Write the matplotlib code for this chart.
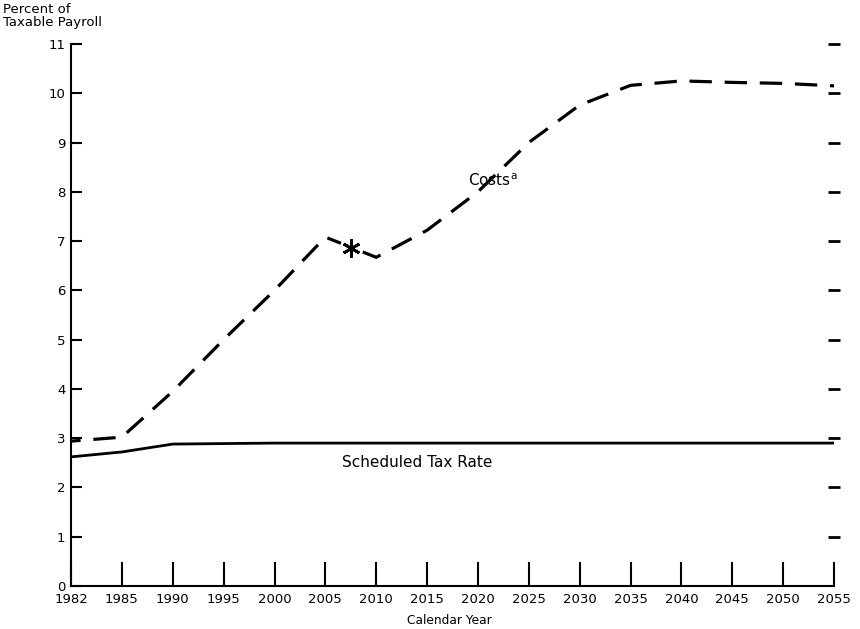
#!/usr/bin/env python3

# +
# import(s)
# -
import numpy as np
import matplotlib as mpl
mpl.use('Agg')
import matplotlib.pyplot as plt


# +
# data
# -
TICK_YEARS = [1982, 1985, 1990, 1995, 2000, 2005, 2010, 2015, 2020, 2025,
              2030, 2035, 2040, 2045, 2050, 2055]
TICK_LABELS = ['1982', '1985', '1990', '1995', '2000', '2005', '2010', '2015', '2020', '2025',
               '2030', '2035', '2040', '2045', '2050', '2055']

COST_YEARS = [1982, 1985, 1990, 1995, 2000, 2005, 2010, 2015, 2020, 2025,
              2030, 2035, 2040, 2045, 2050, 2055]
COST_VALUES = [2.94, 3.02, 3.95, 5.0, 6.0, 7.08, 6.67, 7.22, 8.0, 9.0,
               9.76, 10.16, 10.25, 10.22, 10.2, 10.15]

TAX_YEARS = [1982, 1985, 1990, 2000, 2010, 2020, 2030, 2040, 2050, 2055]
TAX_VALUES = [2.62, 2.72, 2.88, 2.9, 2.9, 2.9, 2.9, 2.9, 2.9, 2.9]

STAR_YEAR = 2007.5
STAR_VALUE = 6.86

Y_TICKS = list(range(0, 12))
RIGHT_TICKS = list(range(1, 12))

FONT = ['DejaVu Sans']


# the ticks are evenly spaced even though 1982-1985 is only 3 years
def year_to_pos(_years):
    return np.interp(_years, TICK_YEARS, np.arange(len(TICK_YEARS)))


# +
# plot
# -
fig = plt.figure(figsize=(8.6, 6.29), dpi=100)
ax = fig.add_axes([0.0826, 0.0684, 0.8872, 0.8617])

ax.plot(year_to_pos(COST_YEARS), COST_VALUES, color='black', lw=2.3,
        linestyle=(4.0, (7.0, 4.0)), solid_capstyle='butt', dash_capstyle='butt', zorder=2)
ax.plot(year_to_pos(TAX_YEARS), TAX_VALUES, color='black', lw=2.0, zorder=2)
# white patch so the dashed line breaks around the asterisk
ax.plot([year_to_pos(STAR_YEAR)], [STAR_VALUE], marker='o', ms=17, mew=0,
        color='white', linestyle='none', zorder=3)
ax.plot([year_to_pos(STAR_YEAR)], [STAR_VALUE], marker=(6, 2, 0), ms=13, mew=2.0,
        color='black', linestyle='none', zorder=4)

ax.text(year_to_pos(2019.0), 8.22, 'Costs$^{\\mathregular{a}}$', fontsize=11, family=FONT,
        ha='left', va='center')
ax.text(year_to_pos(2014.0), 2.5, 'Scheduled Tax Rate', fontsize=11, family=FONT,
        ha='center', va='center')

# axes
ax.set_xlim(0, len(TICK_YEARS) - 1)
ax.set_ylim(0, 11)
ax.set_xticks(np.arange(len(TICK_YEARS)))
ax.set_xticklabels(TICK_LABELS, family=FONT, fontsize=9.5)
ax.set_yticks(Y_TICKS)
ax.set_yticklabels([str(v) for v in Y_TICKS], family=FONT, fontsize=9.5)
ax.tick_params(axis='x', direction='in', length=17, width=1.5, pad=5)
ax.tick_params(axis='y', direction='in', length=8, width=1.5, pad=4)
for _s in ('top', 'right'):
    ax.spines[_s].set_visible(False)
for _s in ('left', 'bottom'):
    ax.spines[_s].set_linewidth(1.5)

# right-hand dashes
ax2 = ax.twinx()
ax2.set_ylim(0, 11)
ax2.set_yticks(RIGHT_TICKS)
ax2.set_yticklabels([])
ax2.tick_params(axis='y', direction='inout', length=8, width=2.0)
for _s in ('top', 'right', 'left', 'bottom'):
    ax2.spines[_s].set_visible(False)

fig.text(0.003, 0.995, 'Percent of\nTaxable Payroll', fontsize=9.5, family=FONT,
         ha='left', va='top', linespacing=1.0)
fig.text(0.523, 0.003, 'Calendar Year', fontsize=8.8, family=FONT, ha='center', va='bottom')

plt.savefig('out.png', dpi=100)
plt.close()
